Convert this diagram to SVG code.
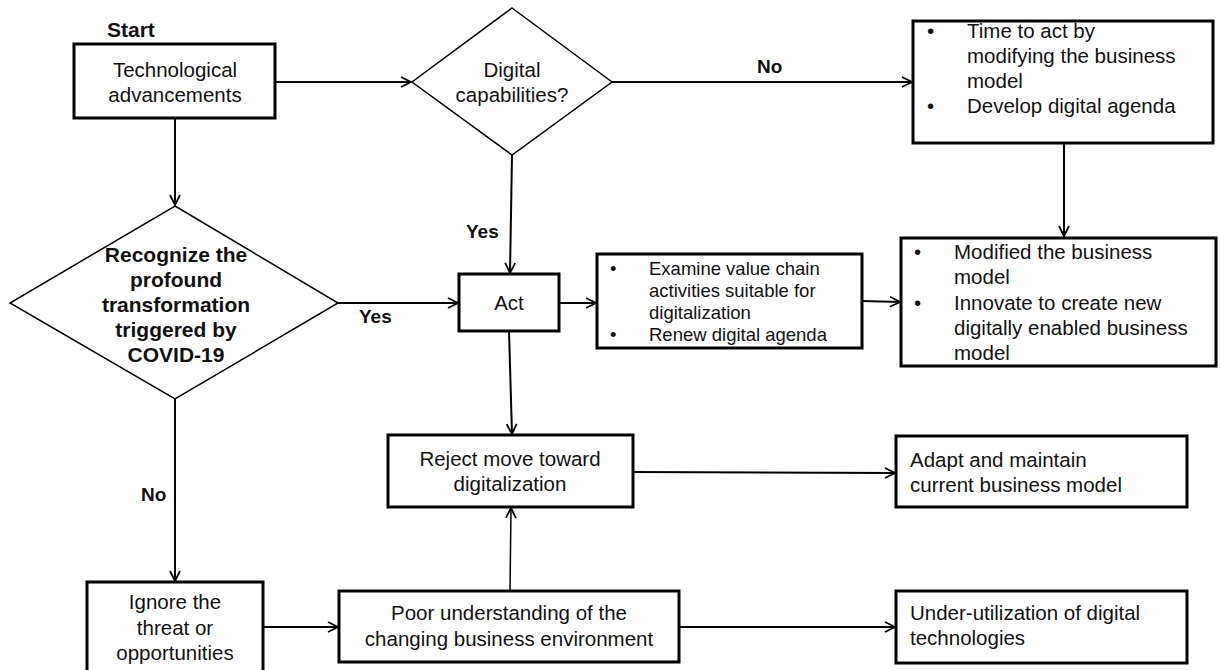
<svg xmlns="http://www.w3.org/2000/svg" width="1220" height="670" viewBox="0 0 1220 670">
<style>
text{font-family:"Liberation Sans",Arial,sans-serif;font-size:20.5px;fill:#111;}
.c{text-anchor:middle;}
.b{font-weight:bold;font-size:21px;}
.l{font-weight:bold;font-size:19px;}
.s{font-size:18.5px;}
.box{fill:#fff;stroke:#000;stroke-width:3;}
.dia{fill:#fff;stroke:#000;stroke-width:1.5;}
.ln{fill:none;stroke:#000;stroke-width:2;marker-end:url(#ah);}
</style>
<defs>
<marker id="ah" viewBox="0 0 12 12" refX="11" refY="6" markerWidth="12" markerHeight="12" markerUnits="userSpaceOnUse" orient="auto">
<path d="M1,1 L11,6 L1,11" fill="none" stroke="#000" stroke-width="1.8"/>
</marker>
</defs>
<g id="connectors">
<line class="ln" x1="275" y1="82" x2="411" y2="82"/>
<line class="ln" x1="612" y1="82" x2="912" y2="82"/>
<line class="ln" x1="1064" y1="144" x2="1064" y2="236"/>
<line class="ln" x1="175" y1="118" x2="175" y2="205"/>
<line class="ln" x1="512" y1="155" x2="510" y2="273"/>
<line class="ln" x1="338" y1="303" x2="458" y2="303"/>
<line class="ln" x1="559" y1="303" x2="596" y2="303"/>
<line class="ln" x1="862" y1="301" x2="900" y2="302"/>
<line class="ln" x1="509" y1="331" x2="512" y2="434"/>
<line class="ln" x1="633" y1="472" x2="895" y2="473"/>
<line class="ln" x1="175" y1="399" x2="175" y2="581"/>
<line class="ln" x1="263" y1="627" x2="338" y2="627"/>
<line class="ln" x1="510" y1="590" x2="511" y2="508" style="stroke-width:1.5"/>
<line class="ln" x1="679" y1="627" x2="895" y2="627"/>
</g>
<g id="labels">
<text class="b" x="107" y="37">Start</text>
<text class="l" x="757" y="73">No</text>
<text class="l" x="466" y="238">Yes</text>
<text class="l" x="359" y="323">Yes</text>
<text class="l" x="141" y="501">No</text>
</g>
<g id="tech">
<rect class="box" x="74" y="44" width="201" height="74"/>
<text class="c" x="175" y="77">Technological</text>
<text class="c" x="175" y="102">advancements</text>
</g>
<g id="digital">
<polygon class="dia" points="512,8 612,82 512,155 412,82"/>
<text class="c" x="512" y="77">Digital</text>
<text class="c" x="512" y="102">capabilities?</text>
</g>
<g id="timeact">
<rect class="box" x="913" y="21" width="300" height="122"/>
<text x="927" y="38">•</text>
<text x="967" y="38">Time to act by</text>
<text x="967" y="63">modifying the business</text>
<text x="967" y="88">model</text>
<text x="927" y="113">•</text>
<text x="967" y="113">Develop digital agenda</text>
</g>
<g id="recognize">
<polygon class="dia" points="175,206 338,303 175,399 10,303"/>
<text class="c b" x="176" y="262">Recognize the</text>
<text class="c b" x="176" y="287">profound</text>
<text class="c b" x="176" y="312">transformation</text>
<text class="c b" x="176" y="337">triggered by</text>
<text class="c b" x="176" y="362">COVID-19</text>
</g>
<g id="act">
<rect class="box" x="459" y="274" width="100" height="57"/>
<text class="c" x="509" y="310">Act</text>
</g>
<g id="examine">
<rect class="box" x="597" y="254" width="265" height="94"/>
<text class="s" x="610" y="275">•</text>
<text class="s" x="649" y="275">Examine value chain</text>
<text class="s" x="649" y="297">activities suitable for</text>
<text class="s" x="649" y="319">digitalization</text>
<text class="s" x="610" y="341">•</text>
<text class="s" x="649" y="341">Renew digital agenda</text>
</g>
<g id="modified">
<rect class="box" x="901" y="238" width="315" height="128"/>
<text x="914" y="259">•</text>
<text x="954" y="259">Modified the business</text>
<text x="954" y="284">model</text>
<text x="914" y="310">•</text>
<text x="954" y="310">Innovate to create new</text>
<text x="954" y="335">digitally enabled business</text>
<text x="954" y="360">model</text>
</g>
<g id="reject">
<rect class="box" x="388" y="435" width="245" height="72"/>
<text class="c" x="510" y="466">Reject move toward</text>
<text class="c" x="510" y="491">digitalization</text>
</g>
<g id="adapt">
<rect class="box" x="896" y="436" width="291" height="71"/>
<text x="910" y="467">Adapt and maintain</text>
<text x="910" y="492">current business model</text>
</g>
<g id="ignore">
<rect class="box" x="87" y="582" width="176" height="95"/>
<text class="c" x="175" y="609">Ignore the</text>
<text class="c" x="175" y="635">threat or</text>
<text class="c" x="175" y="660">opportunities</text>
</g>
<g id="poor">
<rect class="box" x="339" y="591" width="340" height="71"/>
<text class="c" x="509" y="620">Poor understanding of the</text>
<text class="c" x="509" y="646">changing business environment</text>
</g>
<g id="under">
<rect class="box" x="896" y="591" width="291" height="72"/>
<text x="910" y="620">Under-utilization of digital</text>
<text x="910" y="645">technologies</text>
</g>
</svg>
